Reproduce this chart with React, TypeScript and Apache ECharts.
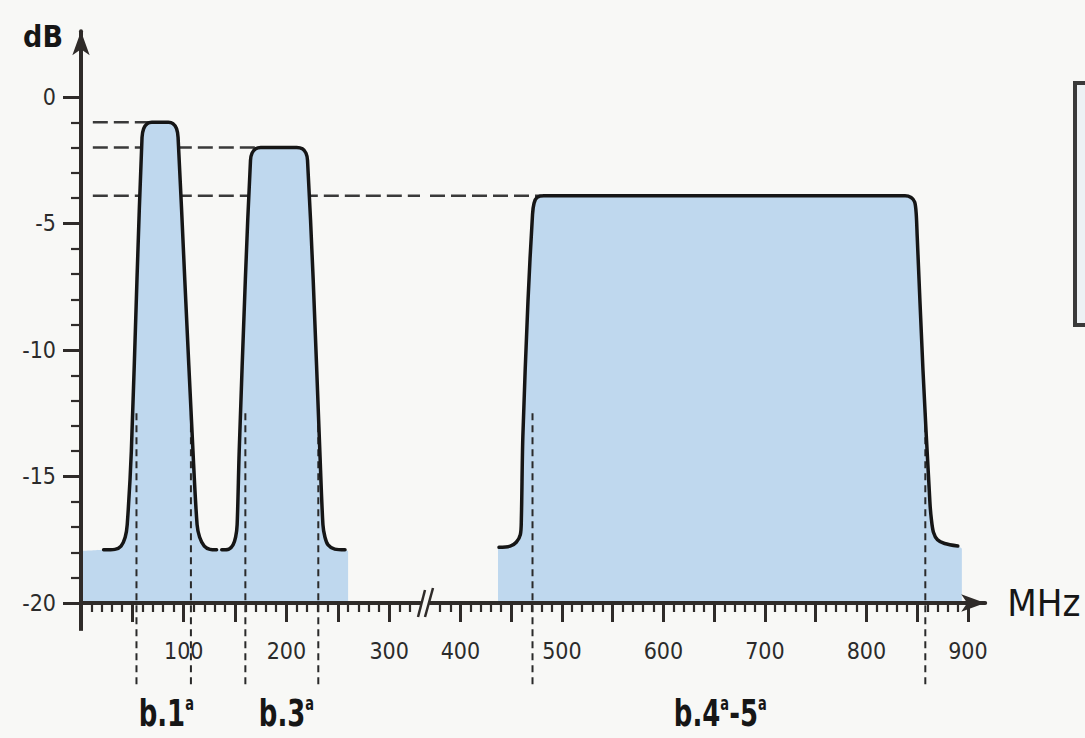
import React, { useEffect, useRef } from 'react';
import * as echarts from 'echarts';

const FONT = "'Liberation Sans Narrow', 'Arial Narrow', 'DejaVu Sans Condensed', sans-serif";
const AXIS_COLOR = '#2f2b29';
const INK = '#161616';
const FILL = '#bfd8ee';
const BG = '#f8f8f6';

// axis ranges
const Y_MIN = -20;
const Y_MAX = 2.6;
const X1_MIN = 0;
const X1_MAX = 330;
const X2_MIN = 370;
const X2_MAX = 917;

// ticks
const Y_MAJOR = [-20, -15, -10, -5, 0];
const Y_MINOR = [-19, -18, -17, -16, -14, -13, -12, -11, -9, -8, -7, -6, -4, -3, -2, -1];
const X1_MAJOR = [50, 100, 150, 200, 250, 300];
const X1_MINOR = [10, 20, 30, 40, 60, 70, 80, 90, 110, 120, 130, 140, 160, 170, 180, 190, 210, 220, 230, 240, 260, 270, 280, 290, 310, 320];
const X1_LABELS = [100, 200, 300];
const X2_MAJOR = [400, 450, 500, 550, 600, 650, 700, 750, 800, 850, 900];
const X2_MINOR = [380, 390, 410, 420, 430, 440, 460, 470, 480, 490, 510, 520, 530, 540, 560, 570, 580, 590, 610, 620, 630, 640, 660, 670, 680, 690, 710, 720, 730, 740, 760, 770, 780, 790, 810, 820, 830, 840, 860, 870, 880, 890];
const X2_LABELS = [400, 500, 600, 700, 800, 900];

// band responses [MHz, dB]
const BAND_1 = [
  [22, -17.9], [33, -17.88], [39, -17.75], [43, -17.4], [45, -16.9], [49, -14.0], [54.5, -7.2], [59.4, -1.6],
  [61, -1.25], [64.5, -1.05], [69, -1.0], [85, -1.0], [89.5, -1.05], [93, -1.25], [94.5, -1.6], [101, -7.2],
  [109, -14.0], [113, -16.9], [115.5, -17.4], [120, -17.75], [125.5, -17.88], [132, -17.9],
];
const BAND_3 = [
  [137, -17.9], [144, -17.87], [148, -17.7], [150.5, -17.4], [152, -16.9], [154, -14.0], [160, -7.2], [165, -2.5],
  [166.5, -2.22], [170, -2.05], [175, -2.0], [210, -2.0], [215.5, -2.05], [219, -2.22], [220.5, -2.5], [226, -7.2],
  [232.5, -14.0], [235.5, -16.9], [237.5, -17.4], [240.5, -17.7], [247, -17.87], [257, -17.9],
];
const BAND_45 = [
  [438, -17.8], [449, -17.75], [455, -17.6], [459, -17.3], [460, -16.7], [461.5, -13.4], [466.5, -8.1], [471, -4.65],
  [472.5, -4.2], [475.5, -3.97], [482, -3.9], [838, -3.9], [844, -3.97], [847.5, -4.15], [849, -4.6], [850, -5.5],
  [855.7, -10.8], [862.5, -16.0], [864, -16.7], [866, -17.2], [870, -17.5], [877, -17.65], [890, -17.75],
];
// light fill base under the bands
const FILL_1 = { start: 0, end: 260, level: -17.95 };
const FILL_2 = { start: 437, end: 894, level: -17.85 };

// reference (peak) levels, dashed
const LEVELS = [-1, -2, -3.9];
const LEVEL_START = 11.5;
const LEVEL_END_1 = [70, 190, X1_MAX];
const LEVEL_END_2 = 480;

// band edges (dashed verticals)
const EDGES_1 = [54, 107, 160, 231];
const EDGES_2 = [471, 858];
const EDGE_TOP = -12.5;
const EDGE_BOTTOM = -23.4;

// band names
const BAND_NAMES = ['b.1{s|a}', 'b.3{s|a}', 'b.4{s|a}-5{s|a}'];
const BAND_NAME_AT = [83, 200, 656];
const BAND_NAME_AXIS = [0, 0, 2];
const BAND_NAME_LEVEL = -24.35;

export default function App() {
  const ref = useRef<HTMLDivElement>(null);

  useEffect(() => {
    const chart = echarts.init(ref.current as HTMLDivElement, null, { renderer: 'svg' });
    const minorTickStyle = { color: AXIS_COLOR, width: 2.2 };
    const majorTickStyle = { color: AXIS_COLOR, width: 3 };
    const labelStyle = { fontSize: 23, fontFamily: FONT, color: '#2b2b2b' };

    const xMinor = (grid: number, min: number, max: number, values: number[]) => ({
      type: 'value', gridIndex: grid, min, max, position: 'bottom', z: 10,
      axisLine: { show: false, onZero: false },
      axisTick: { show: true, length: 9, customValues: values, lineStyle: minorTickStyle },
      axisLabel: { show: false },
      splitLine: { show: false },
    });
    const xMajor = (grid: number, min: number, max: number, ticks: number[], labels: number[], extra: any = {}) => ({
      type: 'value', gridIndex: grid, min, max, position: 'bottom', z: 11,
      axisLine: { show: true, onZero: false, lineStyle: { color: AXIS_COLOR, width: 4 }, ...(extra.axisLine || {}) },
      axisTick: { show: true, length: 19, customValues: ticks, lineStyle: majorTickStyle },
      axisLabel: { show: true, customValues: labels, margin: 36, ...labelStyle },
      splitLine: { show: false },
      ...(extra.rest || {}),
    });

    const lineSeries = (xi: number, yi: number, data: any[], style: any, z: number, extra: any = {}) => ({
      type: 'line', xAxisIndex: xi, yAxisIndex: yi, data, symbol: 'none', silent: true, z,
      lineStyle: style, emphasis: { disabled: true }, ...extra,
    });

    const dashH = { color: '#3a3a3a', width: 2.5, type: [15, 6] };
    const dashV = { color: '#2a2a2a', width: 2, type: [7, 5] };
    const outline = { color: INK, width: 3.5, cap: 'round', join: 'round' };

    const series: any[] = [];
    LEVELS.forEach((lv, i) => {
      series.push(lineSeries(1, 0, [[LEVEL_START, lv], [LEVEL_END_1[i], lv]], dashH, 1));
    });
    series.push(lineSeries(3, 2, [[X2_MIN, LEVELS[2]], [LEVEL_END_2, LEVELS[2]]], dashH, 1));

    series.push(lineSeries(1, 0,
      [[FILL_1.start, FILL_1.level], ...BAND_1, ...BAND_3, [FILL_1.end, FILL_1.level]],
      { width: 0, color: FILL }, 2,
      { smooth: 0.3, areaStyle: { color: FILL, opacity: 1, origin: 'start' } }));
    series.push(lineSeries(3, 2,
      [[FILL_2.start, FILL_2.level], ...BAND_45, [FILL_2.end, FILL_2.level]],
      { width: 0, color: FILL }, 2,
      { smooth: 0.3, areaStyle: { color: FILL, opacity: 1, origin: 'start' } }));

    EDGES_1.forEach((f) => series.push(lineSeries(1, 0, [[f, EDGE_TOP], [f, EDGE_BOTTOM]], dashV, 3, { clip: false })));
    EDGES_2.forEach((f) => series.push(lineSeries(3, 2, [[f, EDGE_TOP], [f, EDGE_BOTTOM]], dashV, 3, { clip: false })));

    series.push(lineSeries(1, 0, BAND_1, outline, 4, { smooth: 0.3 }));
    series.push(lineSeries(1, 0, BAND_3, outline, 4, { smooth: 0.3 }));
    series.push(lineSeries(3, 2, BAND_45, outline, 4, { smooth: 0.3 }));

    const option: any = {
      animation: false,
      backgroundColor: BG,
      grid: [
        { left: 81, top: 31.2, width: 339, height: 571.8, outerBoundsMode: 'none', containLabel: false },
        { left: 430, top: 31.2, width: 555.2, height: 571.8, outerBoundsMode: 'none', containLabel: false },
      ],
      xAxis: [
        xMinor(0, X1_MIN, X1_MAX, X1_MINOR),
        xMajor(0, X1_MIN, X1_MAX, X1_MAJOR, X1_LABELS),
        xMinor(1, X2_MIN, X2_MAX, X2_MINOR),
        xMajor(1, X2_MIN, X2_MAX, X2_MAJOR, X2_LABELS, {
          axisLine: { symbol: ['none', 'arrow'], symbolSize: [13, 24] },
          rest: {
            name: 'MHz', nameLocation: 'end', nameGap: 22,
            nameTextStyle: { fontSize: 38, fontFamily: FONT, color: INK, verticalAlign: 'middle', align: 'left' },
          },
        }),
      ],
      yAxis: [
        {
          type: 'value', gridIndex: 0, min: Y_MIN, max: Y_MAX, position: 'left', z: 10,
          axisLine: { show: true, onZero: false, symbol: ['none', 'arrow'], symbolSize: [13, 24], lineStyle: { color: AXIS_COLOR, width: 4 } },
          axisTick: { show: true, length: 18, customValues: Y_MAJOR, lineStyle: majorTickStyle },
          axisLabel: { show: true, customValues: Y_MAJOR, margin: 25, ...labelStyle, formatter: (v: number) => String(v) },
          splitLine: { show: false },
          name: 'dB', nameLocation: 'end', nameGap: -5,
          nameTextStyle: { fontSize: 30, fontWeight: 'bold', fontFamily: FONT, color: INK, align: 'right', verticalAlign: 'middle', padding: [0, 18, 0, 0] },
        },
        {
          type: 'value', gridIndex: 0, min: Y_MIN, max: Y_MAX, position: 'left', z: 10,
          axisLine: { show: false, onZero: false },
          axisTick: { show: true, length: 10, customValues: Y_MINOR, lineStyle: minorTickStyle },
          axisLabel: { show: false },
          splitLine: { show: false },
        },
        { type: 'value', gridIndex: 1, min: Y_MIN, max: Y_MAX, show: false, splitLine: { show: false } },
      ],
      series,
    };
    chart.setOption(option);

    const px = (xi: number, f: number) => chart.convertToPixel({ xAxisIndex: xi }, f) as number;
    const py = (v: number) => chart.convertToPixel({ yAxisIndex: 0 }, v) as number;
    const axisY = py(Y_MIN);
    const x0 = px(0, 0);
    const xEnd1 = px(0, X1_MAX);
    const xStart2 = px(2, X2_MIN);

    const graphic: any[] = [
      { type: 'line', z: 100, shape: { x1: x0, y1: axisY, x2: x0, y2: py(-21.1) }, style: { stroke: AXIS_COLOR, lineWidth: 4 } },
      { type: 'line', z: 100, shape: { x1: xEnd1 - 2, y1: axisY + 14, x2: xEnd1 + 5, y2: axisY - 13 }, style: { stroke: AXIS_COLOR, lineWidth: 2.5 } },
      { type: 'line', z: 100, shape: { x1: xStart2 - 5, y1: axisY + 14, x2: xStart2 + 3, y2: axisY - 15 }, style: { stroke: AXIS_COLOR, lineWidth: 2.5 } },
      { type: 'rect', z: 100, shape: { x: 1075, y: 83, width: 40, height: 242 }, style: { fill: '#edf1f4', stroke: '#3a3a3a', lineWidth: 4 } },
    ];
    BAND_NAMES.forEach((t, i) => {
      graphic.push({
        type: 'text', z: 100,
        x: px(BAND_NAME_AXIS[i], BAND_NAME_AT[i]),
        y: py(BAND_NAME_LEVEL),
        scaleX: 0.76,
        style: {
          text: t,
          fill: INK,
          fontSize: 38,
          fontWeight: 'bold',
          fontFamily: FONT,
          align: 'center',
          verticalAlign: 'middle',
          rich: {
            s: { fontSize: 19, fontWeight: 'bold', fontFamily: FONT, fill: INK, verticalAlign: 'top' },
          },
        },
      });
    });
    chart.setOption({ graphic });

    return () => chart.dispose();
  }, []);

  return (
    <div
      ref={ref}
      style={{ position: 'fixed', left: 0, top: 0, width: 1085, height: 738, background: BG }}
    />
  );
}
